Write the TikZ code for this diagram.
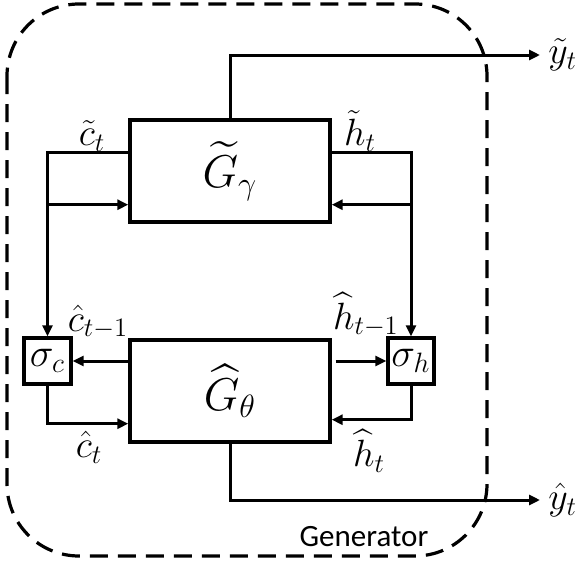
\documentclass[tikz,border=0pt]{standalone}
\usepackage{fix-cm}
\usepackage{amsmath}
\usepackage{fontspec}
\setsansfont{Carlito}
\usetikzlibrary{arrows.meta}

\tikzset{
  blk/.style={draw, line width=1.7pt, inner sep=0pt},
  conn/.style={line width=1.5pt, -{Triangle[length=5.5pt,width=5pt]}},
  lbl/.style={font=\fontsize{19}{21}\selectfont, inner sep=0pt},
}

\begin{document}
\begin{tikzpicture}[x=0.5pt, y=-0.5pt]
            \useasboundingbox (0,0) rectangle (580,563);
            \draw[line width=1.6pt, dash pattern=on 9pt off 5pt, rounded corners=36pt] (7,4) rectangle (487,556);

            \node[blk, minimum width=100pt, minimum height=51pt, font=\fontsize{23}{25}\selectfont] (gtop) at (230,171) {$\widetilde{G}_\gamma$};
            \node[blk, minimum width=100pt, minimum height=51pt, font=\fontsize{23}{25}\selectfont] (gbot) at (230,391) {$\widehat{G}_\theta$};
            \node[blk, minimum width=23.5pt, minimum height=23pt, font=\fontsize{20}{22}\selectfont] (sigc) at (47.5,361) {$\sigma_c$};
            \node[blk, minimum width=23pt, minimum height=23pt, font=\fontsize{20}{22}\selectfont] (sigh) at (411,361) {$\sigma_h$};

            \node[lbl, anchor=west] (yt) at (548,55) {$\tilde{y}_t$};
            \node[lbl, anchor=west] (yb) at (548,500) {$\hat{y}_t$};

            \node[lbl] (ct) at (92,136) {$\tilde{c}_t$};
            \node[lbl] (ht) at (360,131) {$\tilde{h}_t$};
            \node[lbl] (cp) at (98,322) {$\hat{c}_{t-1}$};
            \node[lbl] (hp) at (366,315) {$\widehat{h}_{t-1}$};
            \node[lbl] (cn) at (89,447) {$\hat{c}_t$};
            \node[lbl] (hn) at (369,451) {$\widehat{h}_t$};
            \node[font=\sffamily\fontsize{15.5}{17}\selectfont, inner sep=0pt] (gen) at (364,537) {Generator};

            % feedback entry points
            \coordinate (clin) at ([yshift=9.5pt]gtop.south west);
            \coordinate (hlin) at ([yshift=9.5pt]gtop.south east);

            \draw[conn] (gtop.north) |- ([xshift=-4pt]yt.west);
            \draw[conn] (gbot.south) |- ([xshift=-4pt]yb.west);

            \draw[conn] ([yshift=-17pt]gtop.north west) -| (sigc.north);
            \draw[conn] (sigc.north |- clin) -- (clin);
            \draw[conn] ([yshift=-17pt]gtop.north east) -| (sigh.north);
            \draw[conn] (sigh.north |- hlin) -- (hlin);

            \draw[conn] (gbot.west |- sigc) -- (sigc.east);
            \draw[conn] (sigc.south) |- ([yshift=10pt]gbot.south west);
            \draw[conn] ([xshift=2pt]gbot.east |- sigh) -- (sigh.west);
            \draw[conn] (sigh.south) |- ([yshift=12pt]gbot.south east);
        \end{tikzpicture}
\end{document}
